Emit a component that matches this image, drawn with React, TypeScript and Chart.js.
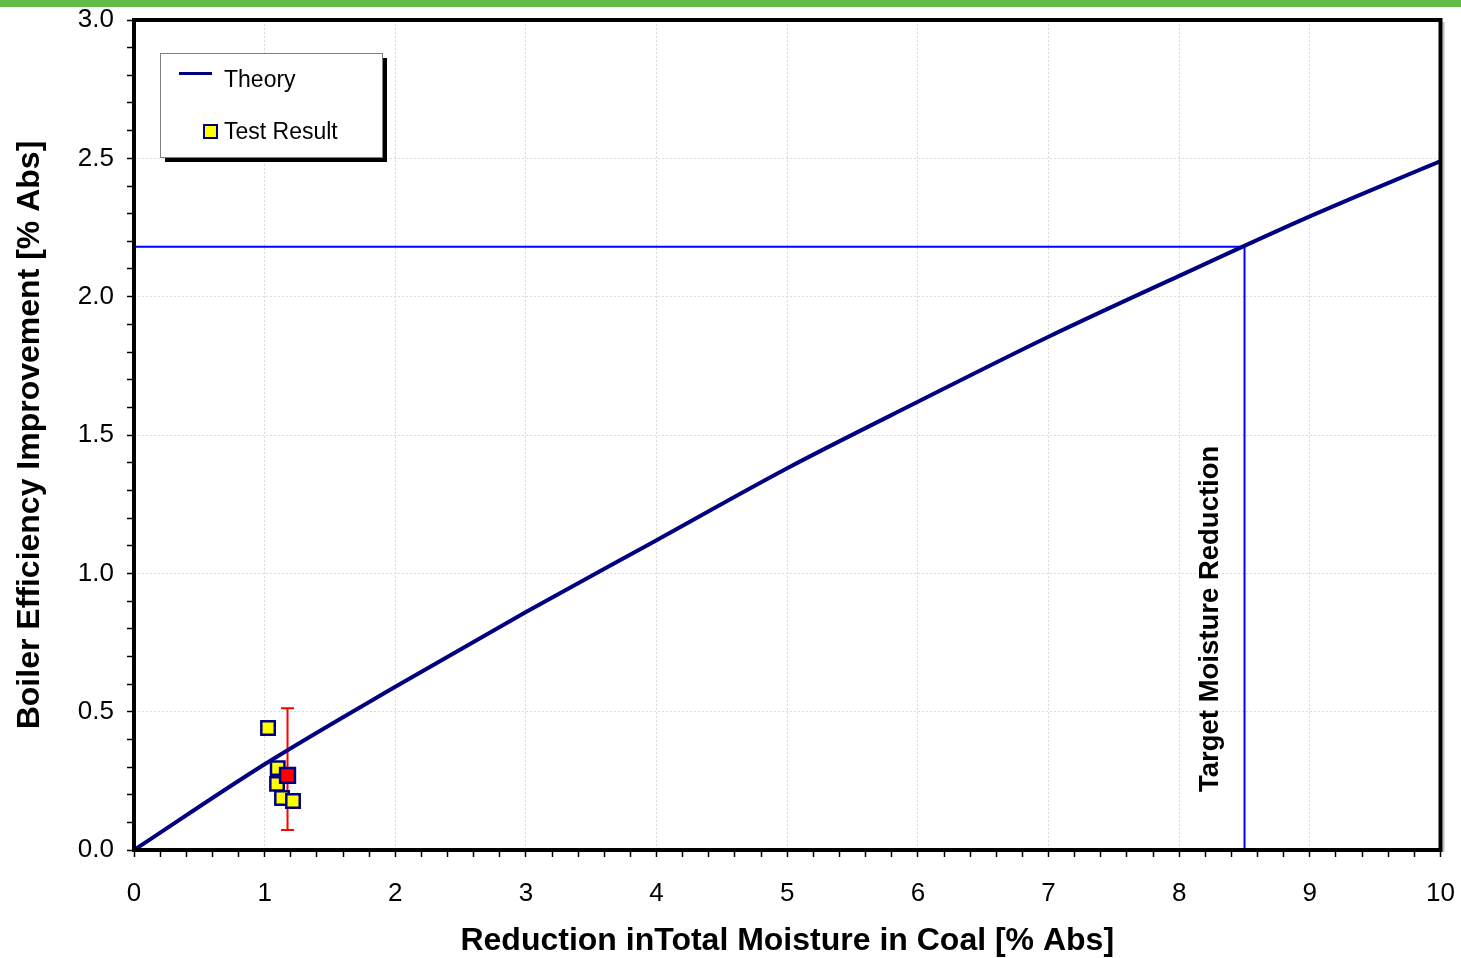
import React, { useEffect, useRef } from 'react';
import { Chart, registerables } from 'chart.js';
Chart.register(...registerables);

const theoryX = [0, 1, 2, 3, 4, 5, 6, 7, 8, 9, 10];
const theoryY = [0, 0.31, 0.59, 0.86, 1.12, 1.38, 1.62, 1.855, 2.075, 2.29, 2.49];
const targetX = 8.5;
const targetY = 2.18;
const testX = [1.026, 1.10, 1.095, 1.133, 1.217];
const testY = [0.441, 0.296, 0.239, 0.188, 0.177];
const avgX = [1.175];
const avgY = [0.27];
const errLow = [0.072];
const errHigh = [0.512];
const xTitle = 'Reduction inTotal Moisture in Coal [% Abs]';
const yTitle = 'Boiler Efficiency Improvement [% Abs]';
const targetLabel = 'Target Moisture Reduction';
const legendLabels = ['Theory', 'Test Result'];

const FONT = '"Liberation Sans", Arial, sans-serif';
const NAVY = '#000080';
const BLUE = '#0000FF';

const isMult = (v: number, s: number) => Math.abs(v / s - Math.round(v / s)) < 1e-6;

const zeroPad = (s: any) => {
  s.paddingTop = 0;
  s.paddingBottom = 0;
  s.paddingLeft = 0;
  s.paddingRight = 0;
};

const overlayPlugin = {
  id: 'overlay',
  beforeDatasetsDraw(chart: any) {
    const { ctx, scales } = chart;
    const xs = scales.x, ys = scales.y;
    ctx.save();
    ctx.strokeStyle = '#FF0000';
    ctx.lineWidth = 2;
    for (let i = 0; i < avgX.length; i++) {
      const px = xs.getPixelForValue(avgX[i]);
      const pLo = ys.getPixelForValue(errLow[i]);
      const pHi = ys.getPixelForValue(errHigh[i]);
      ctx.beginPath();
      ctx.moveTo(px, pLo); ctx.lineTo(px, pHi);
      ctx.moveTo(px - 6.5, pLo); ctx.lineTo(px + 6.5, pLo);
      ctx.moveTo(px - 6.5, pHi); ctx.lineTo(px + 6.5, pHi);
      ctx.stroke();
    }
    ctx.restore();
  },
  afterDraw(chart: any) {
    const { ctx, chartArea: a, scales } = chart;
    ctx.save();
    // frame
    ctx.strokeStyle = '#C0C0C0';
    ctx.lineWidth = 2;
    ctx.beginPath();
    ctx.moveTo(a.right + 3, a.top + 2);
    ctx.lineTo(a.right + 3, a.bottom + 2);
    ctx.stroke();
    ctx.strokeStyle = '#000';
    ctx.lineWidth = 4;
    ctx.strokeRect(a.left, a.top, a.right - a.left, a.bottom - a.top);

    // target label
    const tx = scales.x.getPixelForValue(targetX) - 34;
    const ty = scales.y.getPixelForValue(0) - 58;
    ctx.translate(tx, ty);
    ctx.rotate(-Math.PI / 2);
    ctx.fillStyle = '#000';
    ctx.font = 'bold 27.5px ' + FONT;
    ctx.textAlign = 'left';
    ctx.textBaseline = 'middle';
    ctx.fillText(targetLabel, 0, 0);
    ctx.setTransform(1, 0, 0, 1, 0, 0);

    // legend
    const lx = 160, ly = 53, lw = 222, lh = 104;
    ctx.fillStyle = '#000';
    ctx.fillRect(lx + 5, ly + 5, lw, lh);
    ctx.fillStyle = '#fff';
    ctx.fillRect(lx, ly, lw, lh);
    ctx.strokeStyle = '#808080';
    ctx.lineWidth = 1;
    ctx.strokeRect(lx + 0.5, ly + 0.5, lw, lh);
    ctx.strokeStyle = NAVY;
    ctx.lineWidth = 3;
    ctx.beginPath();
    ctx.moveTo(179, 73.5); ctx.lineTo(212, 73.5);
    ctx.stroke();
    ctx.fillStyle = '#FFFF00';
    ctx.fillRect(204, 125, 13, 13);
    ctx.strokeStyle = NAVY;
    ctx.lineWidth = 2;
    ctx.strokeRect(204, 125, 13, 13);
    ctx.fillStyle = '#000';
    ctx.font = '23px ' + FONT;
    ctx.textAlign = 'left';
    ctx.textBaseline = 'middle';
    ctx.fillText(legendLabels[0], 224, 81);
    ctx.fillText(legendLabels[1], 224, 133);
    ctx.restore();
  },
};

export default function App() {
  const ref = useRef<HTMLCanvasElement>(null);
  useEffect(() => {
    document.body.style.margin = '0';
    const chart = new Chart(ref.current!, {
      type: 'scatter',
      data: {
        datasets: [
          {
            label: 'Average',
            data: avgX.map((x, i) => ({ x, y: avgY[i] })),
            pointStyle: 'rect',
            pointRadius: 10.5,
            backgroundColor: '#FF0000',
            borderColor: NAVY,
            borderWidth: 2.5,
            order: 0,
          },
          {
            label: 'Test Result',
            data: testX.map((x, i) => ({ x, y: testY[i] })),
            pointStyle: 'rect',
            pointRadius: 9.5,
            backgroundColor: '#FFFF00',
            borderColor: NAVY,
            borderWidth: 2.5,
            order: 1,
          },
          {
            label: 'Theory',
            data: theoryX.map((x, i) => ({ x, y: theoryY[i] })),
            showLine: true,
            borderColor: NAVY,
            borderWidth: 4,
            pointRadius: 0,
            cubicInterpolationMode: 'monotone',
            order: 2,
          },
          {
            label: 'Target',
            data: [
              { x: 0, y: targetY },
              { x: targetX, y: targetY },
              { x: targetX, y: 0 },
            ],
            showLine: true,
            borderColor: BLUE,
            borderWidth: 2,
            pointRadius: 0,
            order: 3,
          },
        ],
      },
      options: {
        animation: false,
        responsive: false,
        layout: { padding: { top: 20, right: 20.5, left: 0, bottom: 0 } },
        plugins: { legend: { display: false }, tooltip: { enabled: false } },
        scales: {
          x: {
            type: 'linear',
            min: 0,
            max: 10,
            afterFit: (s: any) => { s.height = 108; zeroPad(s); },
            ticks: {
              stepSize: 0.2,
              autoSkip: false,
              maxRotation: 0,
              padding: 21,
              color: '#000',
              font: { family: FONT, size: 26 },
              callback: (v: any) => (isMult(v, 1) ? String(Math.round(v)) : ''),
            },
            grid: {
              color: (c: any) => (c.tick && isMult(c.tick.value, 1) ? '#D9D9D9' : 'rgba(0,0,0,0)'),
              lineWidth: 1,
              tickColor: '#000',
              tickLength: 7,
              tickWidth: 1.5,
            },
            border: { display: false, dash: [2, 2] },
            title: {
              display: true,
              text: xTitle,
              color: '#000',
              font: { family: FONT, size: 32, weight: 'bold', lineHeight: 1 },
              padding: { top: 1, bottom: 1 },
            },
          },
          y: {
            type: 'linear',
            min: 0,
            max: 3,
            afterFit: (s: any) => { s.width = 134; zeroPad(s); },
            ticks: {
              stepSize: 0.1,
              autoSkip: false,
              padding: 13,
              color: '#000',
              font: { family: FONT, size: 26 },
              callback: (v: any) => (isMult(v, 0.5) ? Number(v).toFixed(1) : ''),
            },
            grid: {
              color: (c: any) => (c.tick && isMult(c.tick.value, 0.5) ? '#D9D9D9' : 'rgba(0,0,0,0)'),
              lineWidth: 1,
              tickColor: '#000',
              tickLength: 7,
              tickWidth: 1.5,
            },
            border: { display: false, dash: [2, 2] },
            title: {
              display: true,
              text: yTitle,
              color: '#000',
              font: { family: FONT, size: 32, weight: 'bold', lineHeight: 1 },
              padding: { top: 14, bottom: 14 },
            },
          },
        },
      },
      plugins: [overlayPlugin],
    } as any);
    return () => chart.destroy();
  }, []);
  return (
    <div style={{ position: 'relative', width: 1461, height: 958, background: '#fff' }}>
      <div style={{ position: 'absolute', left: 0, top: 0, width: 1461, height: 7, background: '#62BB46' }} />
      <canvas ref={ref} width={1461} height={958} style={{ display: 'block' }} />
    </div>
  );
}
